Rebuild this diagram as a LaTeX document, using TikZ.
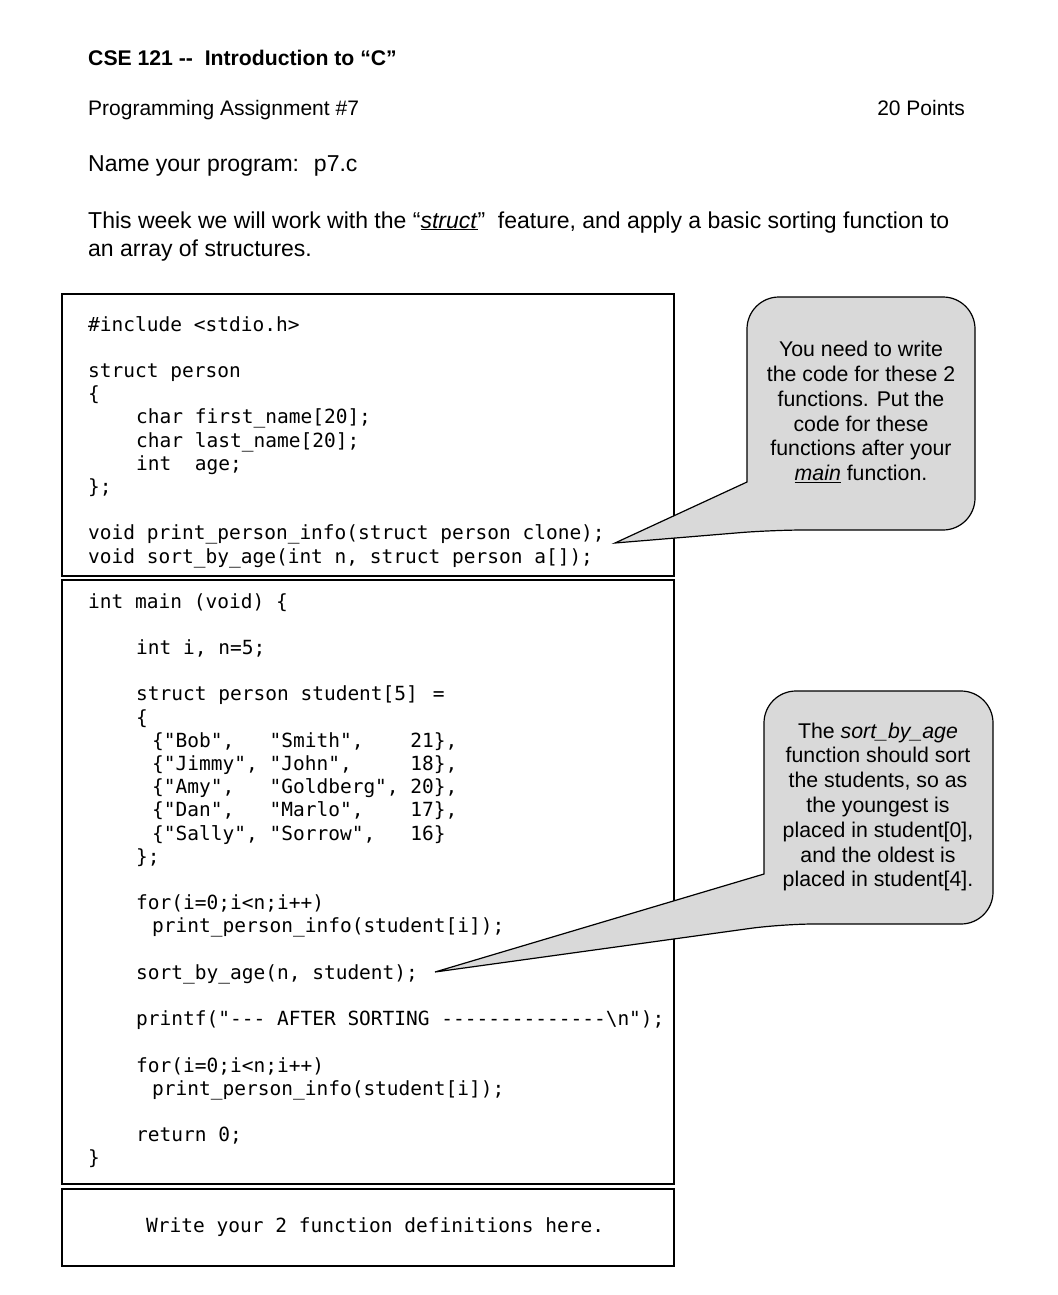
\documentclass[tikz,border=0pt]{standalone}
\usepackage{fontspec}
\setmainfont{Liberation Sans}
\setmonofont{DejaVu Sans Mono}
\newcommand\ind[1]{\hspace*{#1pt}}
\begin{document}
\begin{tikzpicture}[x=1pt,y=-1pt,
  txt/.style={inner sep=0pt,anchor=base west,font=\fontsize{21}{24}\selectfont},
  txtb/.style={inner sep=0pt,anchor=base west,font=\fontsize{23}{26}\selectfont},
  code/.style={inner sep=0pt,anchor=north west,align=left,font=\ttfamily\fontsize{19.5}{23.2}\selectfont},
  box/.style={draw,line width=1.3pt},
  callout/.style={draw,fill=black!15,line width=1.2pt},
  ctxt/.style={inner sep=0pt,align=center,font=\fontsize{21.3}{24.8}\selectfont}]
\useasboundingbox (0,0) rectangle (1057,1295);
\node[txt,font=\bfseries\fontsize{21.2}{24}\selectfont] (t1) at (88,66) {CSE 121 -{}- \ Introduction to “C”};
\node[txt] (t2) at (88,116) {Programming Assignment \#7};
\node[txt,anchor=base east] (t3) at (965,116) {20 Points};
\node[txtb] (t4) at (88,171) {Name your program: \ p7.c};
\node[txtb] (t5) at (88,228) {This week we will work with the “\underline{\textit{struct}}” \ feature, and apply a basic sorting function to};
\node[txtb] (t6) at (88,256) {an array of structures.};

\draw[box] (62,294) rectangle (674,576);
\draw[box] (62,580) rectangle (674,1184);
\draw[box] (62,1189) rectangle (674,1266);

\node[code] (c1) at (88,316) {\#include <stdio.h>\\ \mbox{}\\
struct person\\ \{\\
\ind{48}char first\_name[20];\\
\ind{48}char last\_name[20];\\
\ind{48}int\ \ age;\\
\};\\ \mbox{}\\
void print\_person\_info(struct person clone);\\
void sort\_by\_age(int n, struct person a[]);};

\node[code] (c2) at (88,593) {int main (void) \{\\ \mbox{}\\
\ind{48}int i, n=5;\\ \mbox{}\\
\ind{48}struct person student[5] \,=\\
\ind{48}\{\\
\ind{64}\{"Bob",\phantom{xxx}"Smith",\phantom{xxxx}21\},\\
\ind{64}\{"Jimmy",\phantom{x}"John",\phantom{xxxxx}18\},\\
\ind{64}\{"Amy",\phantom{xxx}"Goldberg",\phantom{x}20\},\\
\ind{64}\{"Dan",\phantom{xxx}"Marlo",\phantom{xxxx}17\},\\
\ind{64}\{"Sally",\phantom{x}"Sorrow",\phantom{xxx}16\}\\
\ind{48}\};\\ \mbox{}\\
\ind{48}for(i=0;i<n;i++)\\
\ind{64}print\_person\_info(student[i]);\\ \mbox{}\\
\ind{48}sort\_by\_age(n, student);\\ \mbox{}\\
\ind{48}printf("-{}-{}- AFTER SORTING -{}-{}-{}-{}-{}-{}-{}-{}-{}-{}-{}-{}-{}-\textbackslash n");\\ \mbox{}\\
\ind{48}for(i=0;i<n;i++)\\
\ind{64}print\_person\_info(student[i]);\\ \mbox{}\\
\ind{48}return 0;\\
\}};

\node[code,anchor=base west] (c3) at (146,1232) {Write your 2 function definitions here.};

\draw[callout] (747,482) [rounded corners=32pt] -- (747,297) -- (975,297) -- (975,530) -- (772,530) [sharp corners] -- (615,543) -- cycle;
\node[ctxt] (n1) at (861,412) {You need to write\\ the code for these 2\\ functions. Put the\\ code for these\\ functions after your\\ \underline{\textit{main}} function.};

\draw[callout] (764,874) [rounded corners=32pt] -- (764,691) -- (993,691) -- (993,924) -- (782,924) [sharp corners] -- (435,972) -- cycle;
\node[ctxt] (n2) at (878,807) {The \textit{sort\_by\_age}\\ function should sort\\ the students, so as\\ the youngest is\\ placed in student[0],\\ and the oldest is\\ placed in student[4].};
\end{tikzpicture}
\end{document}
